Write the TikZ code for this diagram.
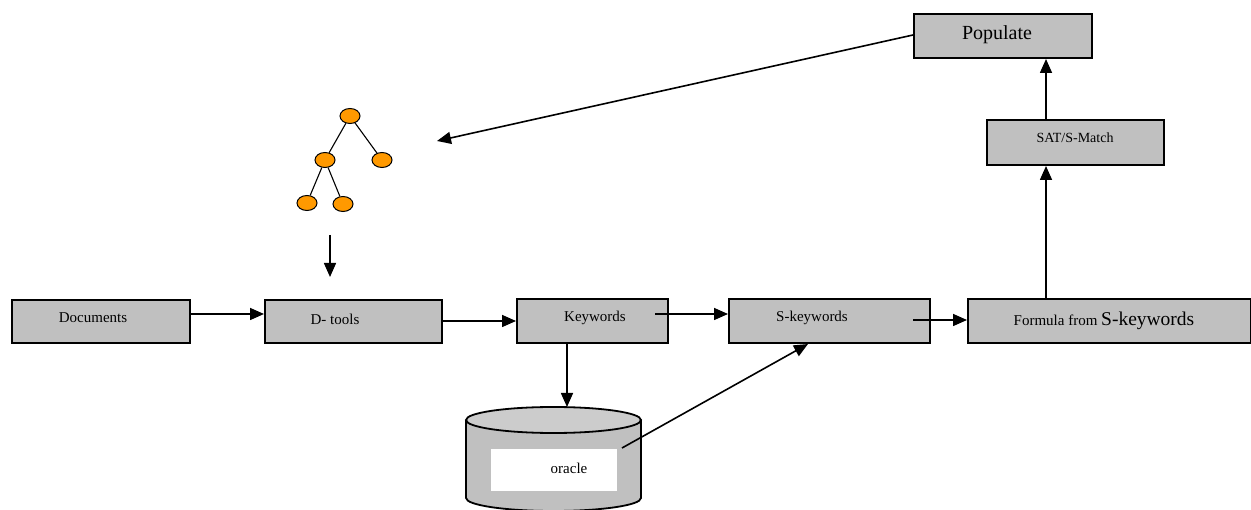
\documentclass[tikz,border=0pt]{standalone}
\usepackage{fontspec}
\setmainfont{Liberation Serif}
\usetikzlibrary{arrows.meta,shapes.geometric}
\definecolor{boxgray}{HTML}{C0C0C0}
\definecolor{topgray}{HTML}{CCCCCC}
\definecolor{leaf}{HTML}{FF9900}
\begin{document}
\begin{tikzpicture}[x=1pt,y=-1pt,
  stepbox/.style={draw=black,line width=2pt,fill=boxgray,inner sep=0pt,anchor=north west},
  conn/.style={line width=1.6pt,-{Triangle[length=14pt,width=12pt]}},
  treenode/.style={ellipse,draw=black,line width=1pt,fill=leaf,minimum width=20pt,minimum height=15pt,inner sep=0pt},
  treeedge/.style={line width=1.1pt},
  lbl/.style={font=\fontsize{15}{17}\selectfont}]
\useasboundingbox (0,0) rectangle (1251,510);

% process boxes
\node[stepbox,minimum width=178pt,minimum height=43pt] (doc) at (11,299) {};
\node[lbl] at (93,318) {Documents};
\node[stepbox,minimum width=177pt,minimum height=43pt] (dtools) at (264,299) {};
\node[lbl] at (335,319) {D- tools};
\node[stepbox,minimum width=151pt,minimum height=44pt] (kw) at (516,298) {};
\node[lbl] at (595,318) {Keywords};
\node[stepbox,minimum width=201pt,minimum height=44pt] (skw) at (728,298) {};
\node[lbl] at (812,318) {S-keywords};
\node[stepbox,minimum width=283pt,minimum height=44pt] (formula) at (967,298) {};
\node[lbl] at (1104,321) {Formula from \fontsize{19.5}{21}\selectfont S-keywords};
\node[stepbox,minimum width=177pt,minimum height=45pt] (sat) at (986,119) {};
\node[lbl,font=\fontsize{14}{16}\selectfont] at (1075,138) {SAT/S-Match};
\node[stepbox,minimum width=178pt,minimum height=44pt] (pop) at (913,13) {};
\node[font=\fontsize{20}{22}\selectfont] at (997,35) {Populate};

% oracle store
\fill[boxgray] (466,420) -- (466,498) arc[start angle=180,end angle=360,x radius=87.5pt,y radius=13pt] -- (641,420) -- cycle;
\draw[line width=1.8pt] (466,420) -- (466,498) arc[start angle=180,end angle=360,x radius=87.5pt,y radius=13pt] -- (641,420);
\draw[line width=1.8pt,fill=topgray] (553.5,420) ellipse[x radius=87.5pt,y radius=13pt];
\node[fill=white,minimum width=126pt,minimum height=42pt,inner sep=0pt] (oracle) at (554,470) {};
\node[lbl] at (569,468) {oracle};
\coordinate (cyltop) at (567,407);
\coordinate (cylside) at (622,448);

% tree icon
\node[treenode] (r) at (350,116) {};
\node[treenode] (a) at (325,160) {};
\node[treenode] (b) at (382,160) {};
\node[treenode] (c) at (307,203) {};
\node[treenode] (d) at (343,204) {};
\draw[treeedge] (r) -- (a);
\draw[treeedge] (r) -- (b);
\draw[treeedge] (a) -- (c);
\draw[treeedge] (a) -- (d);
\coordinate (treebot) at (330,235);
\coordinate (treeright) at (437,141);

% connectors
\draw[conn] (doc.east |- 0,314) -- (dtools.west |- 0,314);
\draw[conn] (dtools.east |- 0,321) -- (kw.west |- 0,321);
\draw[conn] (655,314) -- (skw.west |- 0,314);
\draw[conn] (913,320) -- (formula.west |- 0,320);
\draw[conn] (formula.north -| 1046,0) -- (sat.south -| 1046,0);
\draw[conn] (sat.north -| 1046,0) -- (pop.south -| 1046,0);
\draw[conn] (kw.south -| 567,0) -- (cyltop);
\draw[conn] (cylside) -- (skw.south -| 808,0);
\draw[conn] (pop.west |- 0,35) -- (treeright);
\draw[conn] (treebot) -- (330,277);
\end{tikzpicture}
\end{document}
